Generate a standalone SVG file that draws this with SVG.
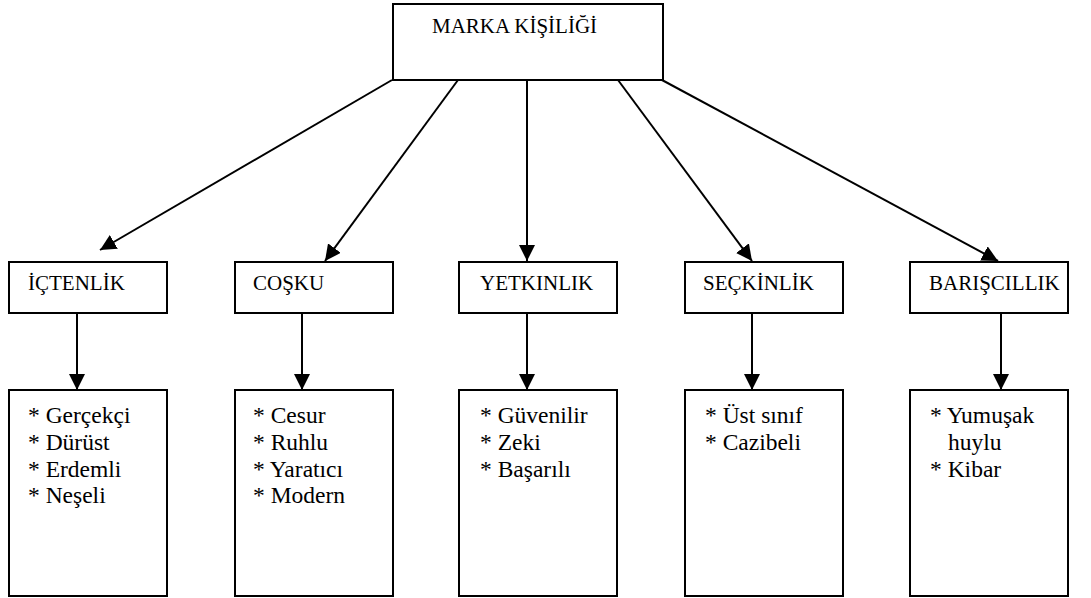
<svg xmlns="http://www.w3.org/2000/svg" width="1091" height="598" viewBox="0 0 1091 598">
  <style>
    .box { fill: #fff; stroke: #000; stroke-width: 2; }
    text { font-family: "Liberation Serif", "Times New Roman", Times, serif; fill: #000; }
    .lbl { font-size: 21px; }
    .item { font-size: 23.5px; }
    .edge { stroke: #000; stroke-width: 2; fill: none; marker-end: url(#arrow); }
  </style>
  <defs>
    <marker id="arrow" markerUnits="userSpaceOnUse" markerWidth="16" markerHeight="16" viewBox="0 0 16 16" refX="16" refY="8" orient="auto">
      <path d="M0,0 L16,8 L0,16 Z" fill="#000"/>
    </marker>
  </defs>
  <rect width="1091" height="598" fill="#fff"/>

  <!-- root -->
  <g id="marka-kisiligi" font-family="Liberation Serif, serif">
    <rect class="box" x="393" y="4" width="270" height="76"/>
    <text class="lbl" x="432" y="33">MARKA KİŞİLİĞİ</text>
  </g>

  <!-- dimensions -->
  <g id="ictenlik" font-family="Liberation Serif, serif">
    <rect class="box" x="9" y="262" width="158" height="51"/>
    <text class="lbl" x="28" y="290">İÇTENLİK</text>
  </g>
  <g id="cosku" font-family="Liberation Serif, serif">
    <rect class="box" x="235" y="262" width="158" height="51"/>
    <text class="lbl" x="253" y="290">COŞKU</text>
  </g>
  <g id="yetkinlik" font-family="Liberation Serif, serif">
    <rect class="box" x="459" y="262" width="158" height="51"/>
    <text class="lbl" x="480" y="290">YETKINLIK</text>
  </g>
  <g id="seckinlik" font-family="Liberation Serif, serif">
    <rect class="box" x="685" y="262" width="158" height="51"/>
    <text class="lbl" x="703" y="290">SEÇKİNLİK</text>
  </g>
  <g id="bariscillik" font-family="Liberation Serif, serif">
    <rect class="box" x="910" y="262" width="158" height="51"/>
    <text class="lbl" x="929" y="290">BARIŞCILLIK</text>
  </g>

  <!-- trait lists -->
  <g id="ictenlik-traits" font-family="Liberation Serif, serif">
    <rect class="box" x="9" y="390" width="158" height="206"/>
    <text class="item" x="28" y="423">* Gerçekçi</text>
    <text class="item" x="28" y="450">* Dürüst</text>
    <text class="item" x="28" y="476.5">* Erdemli</text>
    <text class="item" x="28" y="503">* Neşeli</text>
  </g>
  <g id="cosku-traits" font-family="Liberation Serif, serif">
    <rect class="box" x="235" y="390" width="158" height="206"/>
    <text class="item" x="253" y="423">* Cesur</text>
    <text class="item" x="253" y="450">* Ruhlu</text>
    <text class="item" x="253" y="476.5">* Yaratıcı</text>
    <text class="item" x="253" y="503">* Modern</text>
  </g>
  <g id="yetkinlik-traits" font-family="Liberation Serif, serif">
    <rect class="box" x="459" y="390" width="158" height="206"/>
    <text class="item" x="480" y="423">* Güvenilir</text>
    <text class="item" x="480" y="450">* Zeki</text>
    <text class="item" x="480" y="476.5">* Başarılı</text>
  </g>
  <g id="seckinlik-traits" font-family="Liberation Serif, serif">
    <rect class="box" x="685" y="390" width="158" height="206"/>
    <text class="item" x="705" y="423">* Üst sınıf</text>
    <text class="item" x="705" y="450">* Cazibeli</text>
  </g>
  <g id="bariscillik-traits" font-family="Liberation Serif, serif">
    <rect class="box" x="910" y="390" width="158" height="206"/>
    <text class="item" x="930" y="423">* Yumuşak</text>
    <text class="item" x="948" y="450">huylu</text>
    <text class="item" x="930" y="476.5">* Kibar</text>
  </g>

  <!-- connectors -->
  <g id="connectors">
    <line class="edge" x1="392" y1="80" x2="100" y2="250"/>
    <line class="edge" x1="458" y1="80" x2="325" y2="261"/>
    <line class="edge" x1="527" y1="80" x2="527" y2="261"/>
    <line class="edge" x1="618" y1="80" x2="752" y2="261"/>
    <line class="edge" x1="662" y1="80" x2="998" y2="261"/>
    <line class="edge" x1="77" y1="313" x2="77" y2="390"/>
    <line class="edge" x1="302" y1="313" x2="302" y2="390"/>
    <line class="edge" x1="527" y1="313" x2="527" y2="390"/>
    <line class="edge" x1="752" y1="313" x2="752" y2="390"/>
    <line class="edge" x1="1001" y1="313" x2="1001" y2="390"/>
  </g>
</svg>
